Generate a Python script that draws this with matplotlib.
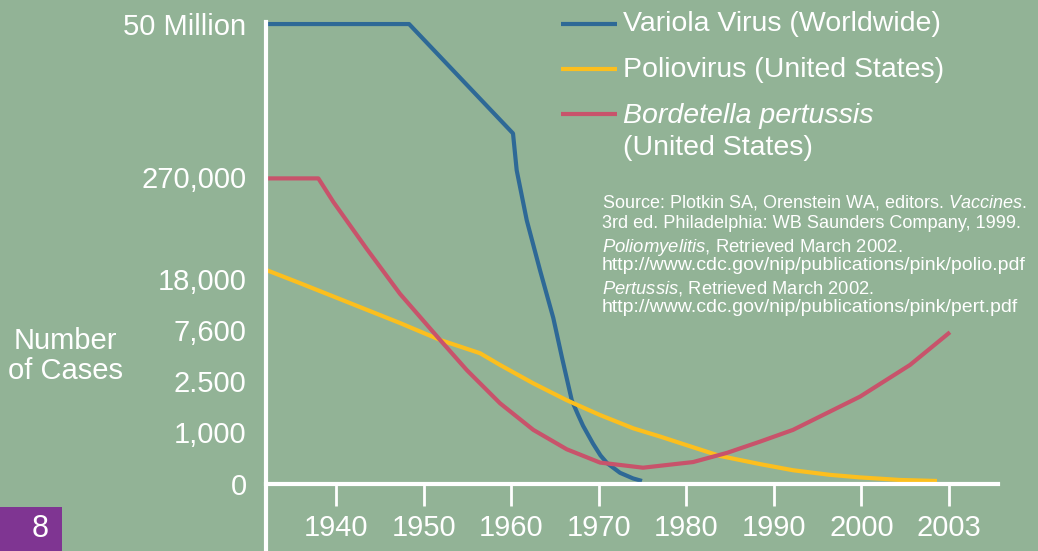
import matplotlib
matplotlib.use('Agg')
import matplotlib.pyplot as plt
from matplotlib.lines import Line2D
from matplotlib.patches import Rectangle

plt.rcParams['font.family'] = ['Liberation Sans', 'DejaVu Sans']
plt.rcParams['mathtext.fontset'] = 'custom'
plt.rcParams['mathtext.rm'] = 'Liberation Sans'
plt.rcParams['mathtext.it'] = 'Liberation Sans:italic'

# y axis is not linear: each label sits on a "level" of the chart
y_levels = [0, 1, 2, 3, 4, 6, 9]
y_labels = ['0', '1,000', '2.500', '7,600', '18,000', '270,000', '50 Million']

x_ticks = [1940, 1950, 1960, 1970, 1980, 1990, 2000, 2010]
x_labels = ['1940', '1950', '1960', '1970', '1980', '1990', '2000', '2003']

variola_years = [1932.0, 1948.34, 1960.21, 1960.63, 1961.78, 1963.30, 1964.81, 1965.81,
                 1966.92, 1967.6, 1968.21, 1969.35, 1970.2, 1970.95, 1972.43, 1973.92,
                 1974.94]
variola_levels = [8.99, 8.99, 6.85, 6.13, 5.15, 4.17, 3.24, 2.46,
                  1.63, 1.36, 1.13, 0.78, 0.55, 0.40, 0.21, 0.10,
                  0.05]

polio_years = [1932.0, 1935.89, 1947.31, 1951.88, 1956.44, 1958.73, 1962.53, 1966.35,
               1970.15, 1973.95, 1977.0, 1980.77, 1983.85, 1988.42, 1992.19, 1996.41,
               1999.84, 2004.41, 2008.63]
polio_levels = [4.18, 3.92, 3.14, 2.81, 2.55, 2.32, 1.96, 1.63,
                1.34, 1.08, 0.92, 0.71, 0.54, 0.38, 0.26, 0.17,
                0.12, 0.07, 0.05]

pert_years = [1932.0, 1937.98, 1939.69, 1943.51, 1947.31, 1951.88, 1954.93, 1958.73,
              1962.53, 1966.35, 1970.15, 1975.06, 1980.77, 1984.65, 1988.42, 1992.19,
              1999.84, 2005.55, 2010.11]
pert_levels = [5.97, 5.97, 5.51, 4.59, 3.71, 2.81, 2.22, 1.57,
               1.05, 0.67, 0.41, 0.31, 0.42, 0.60, 0.82, 1.05,
               1.70, 2.32, 2.96]

W, H = 1038, 551
bg = '#92b396'
blue = '#2e6996'
yellow = '#fcbf1e'
red = '#c8536b'
purple = '#7f3592'

fig = plt.figure(figsize=(W / 100, H / 100), dpi=100, facecolor=bg)
ax = fig.add_axes([266 / W, 0, (998 - 266) / W, (551 - 22) / H])
ax.set_facecolor(bg)
ax.set_xlim(1932.0, 2015.6)
ax.set_ylim(-1.32, 9.03)

for s in ['top', 'right']:
    ax.spines[s].set_visible(False)
ax.spines['left'].set_color('white')
ax.spines['left'].set_linewidth(3)
ax.spines['bottom'].set_color('white')
ax.spines['bottom'].set_linewidth(3)
ax.spines['bottom'].set_position(('data', 0))

ax.set_xticks(x_ticks, x_labels)
ax.set_yticks(y_levels, y_labels)
ax.tick_params(axis='x', direction='out', length=16, width=2, colors='white',
               labelsize=21, pad=6)
ax.tick_params(axis='y', length=0, colors='white', labelsize=21, pad=14)

ax.plot(variola_years, variola_levels, color=blue, lw=3, clip_on=False,
        solid_capstyle='butt', solid_joinstyle='round')
ax.plot(polio_years, polio_levels, color=yellow, lw=3, clip_on=False,
        solid_capstyle='butt', solid_joinstyle='round')
ax.plot(pert_years, pert_levels, color=red, lw=3, clip_on=False,
        solid_capstyle='butt', solid_joinstyle='round')


def fx(x):
    return x / W


def fy(y):
    return 1 - y / H


# legend drawn by hand
for col, yy in [(blue, 24), (yellow, 69), (red, 114)]:
    fig.add_artist(Line2D([fx(561), fx(617)], [fy(yy), fy(yy)], color=col, lw=3,
                          transform=fig.transFigure, solid_capstyle='butt'))
fig.text(fx(623), fy(24), 'Variola Virus (Worldwide)', color='white', fontsize=20.5, va='center')
fig.text(fx(623), fy(70), 'Poliovirus (United States)', color='white', fontsize=20.5, va='center')
fig.text(fx(623), fy(116), 'Bordetella pertussis', color='white', fontsize=20.5, va='center',
         style='italic')
fig.text(fx(623), fy(148), '(United States)', color='white', fontsize=20.5, va='center')

# source lines: (centre y, right edge in the reference, text)
src = [
    (203, 1028, r'Source: Plotkin SA, Orenstein WA, editors. $\mathit{Vaccines}$.'),
    (223, 1023, '3rd ed. Philadelphia: WB Saunders Company, 1999.'),
    (247, 903, r'$\mathit{Poliomyelitis}$, Retrieved March 2002.'),
    (265, 1035, 'http://www.cdc.gov/nip/publications/pink/polio.pdf'),
    (288, 875, r'$\mathit{Pertussis}$, Retrieved March 2002.'),
    (307, 1028, 'http://www.cdc.gov/nip/publications/pink/pert.pdf'),
]
renderer = fig.canvas.get_renderer()
for yy, right, t in src:
    txt = fig.text(fx(602), fy(yy), t, color='white', fontsize=14, va='center')
    w = txt.get_window_extent(renderer).width
    txt.set_fontsize(min(14.0, 14 * (right - 602) / w))

fig.text(fx(65), fy(356), 'Number\nof Cases', color='white', fontsize=21,
         ha='center', va='center', multialignment='center', linespacing=1.1)

fig.add_artist(Rectangle((0, 0), fx(62), 44 / H, transform=fig.transFigure,
                         facecolor=purple, edgecolor='none'))
fig.text(fx(40), fy(529), '8', color='white', fontsize=22, ha='center', va='center')

fig.savefig('out.png', dpi=100, facecolor=bg)
